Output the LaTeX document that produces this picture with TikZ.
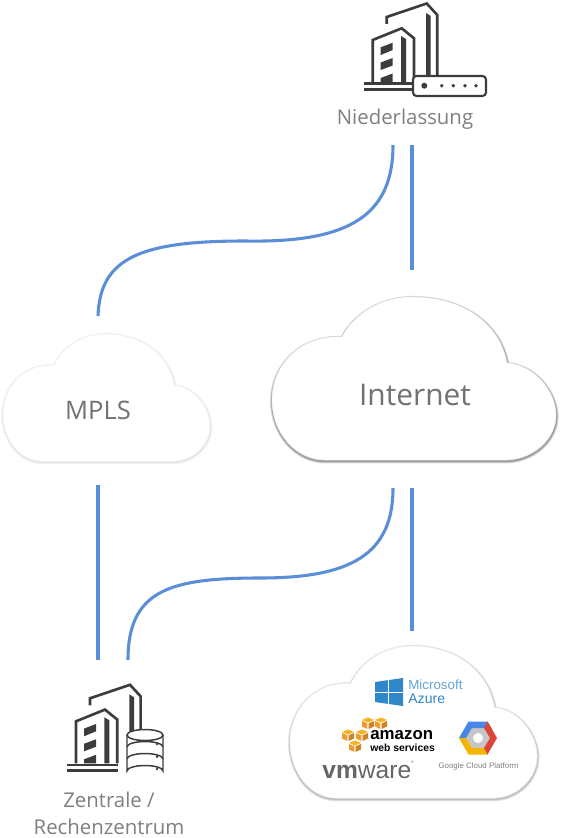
\documentclass[tikz,border=0pt]{standalone}
\usepackage{fontspec}
\usepackage{xcolor}
\setmainfont{Open Sans}
\newfontfamily\logofont{Liberation Sans}
\definecolor{linkblue}{HTML}{5A8FD8}
\definecolor{icongray}{HTML}{3C3C3C}
\definecolor{labelgray}{HTML}{7F7F7F}
\definecolor{awsorange}{HTML}{F29A2E}
\definecolor{azureblue}{HTML}{2F86C8}
\definecolor{gcpblue}{HTML}{4A86E8}
\definecolor{gcpred}{HTML}{DB4437}
\definecolor{gcpyellow}{HTML}{F4B400}
\tikzset{
  link/.style={line width=1.75pt, linkblue},
  iconline/.style={line width=1.5pt, icongray, line join=miter},
  iconfill/.style={fill=icongray, draw=none},
  dbline/.style={icongray, line width=0.85pt},
  sitelabel/.style={text=labelgray, font=\fontsize{11.6}{15.2}\selectfont, align=center},
  cloudlabel/.style={text=labelgray!90!black, inner sep=0pt},
}
\newcommand{\cloudpath}{(53,163) .. controls (23,163) and (0,135) .. (0,103) .. controls (0,68) and (28,38) .. (70,40) .. controls (83,15) and (111,0) .. (140,0) .. controls (193,0) and (228,28) .. (235,66) .. controls (263,68) and (284,95) .. (284,118) .. controls (284,143) and (260,163) .. (233,163) -- cycle}
% x, y, xscale, yscale, shadow strength
\newcommand{\cloudshape}[5]{
  \begin{scope}[shift={(#1,#2)},xscale=#3,yscale=#4]
    \foreach \w in {2.6,1.7,0.9}
      \draw[black, opacity=#5, line width=\w pt, line join=round] [xshift=0.006cm, yshift=-0.024cm] \cloudpath;
    \draw[fill=white, draw=gray!12, line width=0.25pt] \cloudpath;
  \end{scope}
}
\newcommand{\buildingicon}[2]{
  \begin{scope}[shift={(#1,#2)}]
    \draw[iconline] (66.7,24) -- (66.7,17) -- (106.7,3.5) -- (117.3,15) -- (117.3,75);
    \draw[iconfill] (106,13) -- (110.7,16) -- (110.7,75) -- (106,75) -- cycle;
    \draw[iconline, fill=white] (52.7,82) -- (52.7,40) -- (81.7,28.3) -- (94,38.3) -- (94,82);
    \draw[iconfill] (81,36) -- (86,39) -- (86,82) -- (81,82) -- cycle;
    \draw[iconfill] (60.7,47.3) -- (72.7,42.7) -- (72.7,50) -- (60.7,55) -- cycle;
    \draw[iconfill] (60.7,62.5) -- (72.7,58) -- (72.7,65.5) -- (60.7,70) -- cycle;
    \draw[iconfill] (60.7,78) -- (72.7,73.5) -- (72.7,82) -- (60.7,82) -- cycle;
    \draw[iconline, line width=1.2pt] (44,83.5) -- (95,83.5);
    \draw[iconline, line width=1.8pt] (44,89.5) -- (95,89.5);
  \end{scope}
}
\newcommand{\awscube}[2]{
  \begin{scope}[shift={(#1,#2)}]
    \fill[awsorange!75!yellow] (-6,-3) -- (0,-5.5) -- (6,-3) -- (0,-0.5) -- cycle;
    \fill[awsorange] (-6,-2) -- (-0.6,0.3) -- (-0.6,6) -- (-6,3.5) -- cycle;
    \fill[awsorange!85!black] (6,-2) -- (0.6,0.3) -- (0.6,6) -- (6,3.5) -- cycle;
  \end{scope}
}
\begin{document}
\begin{tikzpicture}[x=0.02cm, y=-0.02cm]
    \useasboundingbox (0,0) rectangle (564,838);

    \coordinate (nlA) at (393,145);
    \coordinate (nlB) at (412,145);
    \coordinate (mplsTop) at (98,316);
    \coordinate (inetTop) at (412,270);
    \coordinate (mplsBot) at (98,485);
    \coordinate (inetBotA) at (393,488);
    \coordinate (inetBotB) at (412,488);
    \coordinate (dcA) at (98,660);
    \coordinate (dcB) at (128,660);
    \coordinate (provTop) at (412,631);
    \coordinate (midUp) at (245,241);
    \coordinate (midDown) at (260,578);

    \draw[link] (mplsTop) .. controls (100,258) and (140,241) .. (midUp) .. controls (350,243) and (393,215) .. (nlA);
    \draw[link] (nlB) -- (inetTop);
    \draw[link] (mplsBot) -- (dcA);
    \draw[link] (inetBotA) .. controls (393,555) and (350,578) .. (midDown) .. controls (170,578) and (128,590) .. (dcB);
    \draw[link] (inetBotB) -- (provTop);

    \cloudshape{3}{334}{0.729}{0.78}{0.035}
    \cloudshape{272}{297}{1}{1}{0.15}
    \cloudshape{290}{646}{0.87}{0.933}{0.09}
    \node[cloudlabel, font=\fontsize{14.5}{18}\selectfont] (mpls) at (98,410) {MPLS};
    \node[cloudlabel, font=\fontsize{17}{20}\selectfont] (inet) at (415,395) {Internet};

    % branch office
    \buildingicon{320}{0}
    \draw[iconline, line width=1.2pt, fill=white, rounded corners=2pt] (413,76) rectangle (486,96);
    \fill[icongray] (424.3,85.7) circle (3);
    \foreach \dotx in {441.7,453.3,465,476}
      \fill[icongray] (\dotx,85.7) circle (1.9);
    \node[sitelabel] (niederlassung) at (405,119) {Niederlassung};

    % head office
    \buildingicon{23.3}{681.3}
    \draw[dbline, fill=white] (127,735) -- (127,771) arc[start angle=180, end angle=360, x radius=18, y radius=5.5] -- (163,735);
    \draw[dbline, fill=white] (145,735) ellipse (18 and 5.5);
    \draw[dbline] (127,747) arc[start angle=180, end angle=360, x radius=18, y radius=5.5];
    \draw[dbline] (127,759) arc[start angle=180, end angle=360, x radius=18, y radius=5.5];
    \foreach \doty in {744,756.7,769}
      \fill[icongray] (157,\doty) circle (1.3);
    \node[sitelabel] (zentrale) at (109,813) {Zentrale /\\Rechenzentrum};

    % azure
    \fill[azureblue] (375,682) -- (403,678) -- (403,706) -- (375,702) -- cycle;
    \draw[white, line width=0.5pt] (388,679) -- (388,705);
    \draw[white, line width=0.5pt] (375,692) -- (403,692);
    \node[text=azureblue!75, font=\logofont\fontsize{7.6}{8}\selectfont, inner sep=0pt, anchor=west] (msword) at (408,685) {Microsoft};
    \node[text=azureblue, font=\logofont\fontsize{8}{8}\selectfont, inner sep=0pt, anchor=west] (azword) at (408,698.5) {Azure};

    % aws
    \awscube{368}{723}
    \awscube{381}{723}
    \awscube{348}{735}
    \awscube{362}{735}
    \awscube{355}{746}
    \node[font=\logofont\bfseries\fontsize{9.6}{10}\selectfont, inner sep=0pt, anchor=west] (amazon) at (370,735) {amazon};
    \node[font=\logofont\bfseries\fontsize{5.9}{7}\selectfont, inner sep=0pt, anchor=west] (webservices) at (370,748) {web services};

    % vmware
    \node[text=black!60, font=\logofont\fontsize{14}{14}\selectfont, inner sep=0pt, anchor=west] (vmware) at (322,770) {\textbf{vm}ware\raisebox{1.2ex}{\fontsize{2}{2}\selectfont ®}};

    % google
    \fill[gray!45] (466,738) -- (472,728) -- (484,728) -- (490,738) -- (484,748) -- (472,748) -- cycle;
    \fill[white] (478,738) circle (5);
    \fill[gcpblue] (459,738) -- (468.5,721.5) -- (487.5,721.5) -- (492,729) -- (484,728) -- (472,728) -- (466,738) -- cycle;
    \fill[gcpred] (487.5,721.5) -- (497,738) -- (487.5,754.5) -- (480,748) -- (484,748) -- (490,738) -- (484,728) -- cycle;
    \fill[gcpyellow] (459,738) -- (466,738) -- (472,748) -- (484,748) -- (487.5,754.5) -- (468.5,754.5) -- cycle;
    \node[text=black!50, font=\logofont\fontsize{4.5}{5}\selectfont, inner sep=0pt] (gcp) at (478.5,766) {Google Cloud Platform};
\end{tikzpicture}
\end{document}
